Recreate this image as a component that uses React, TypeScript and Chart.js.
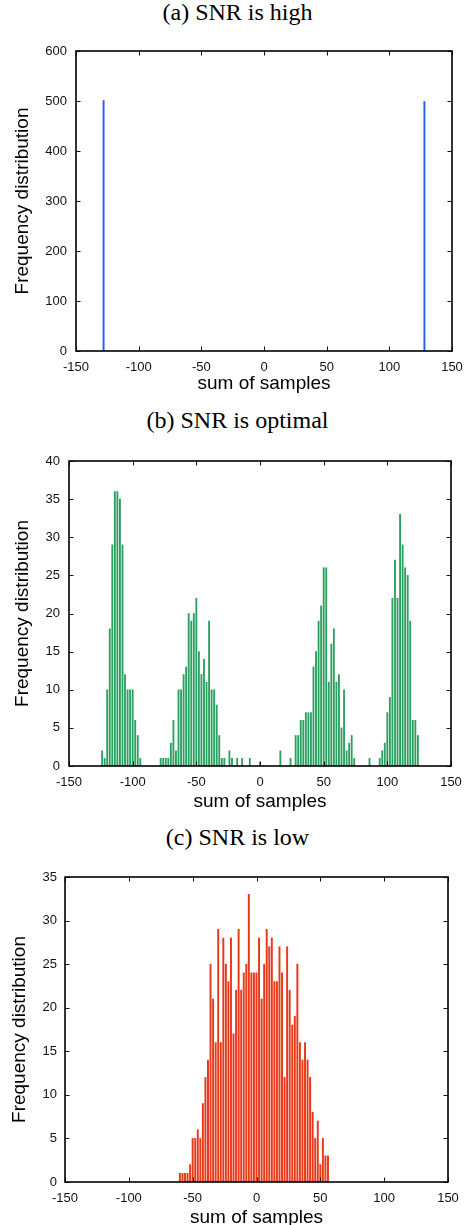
import React, { useEffect, useRef } from "react";
import { Chart, registerables } from "chart.js";

Chart.register(...registerables);

// ---------- data ----------
const xTickValues = [-150, -100, -50, 0, 50, 100, 150];

// (a) SNR is high
const highSums = [-128, 128];
const highCounts = [501, 499];

// (b) SNR is optimal
const optSums = [
  -124, -122, -120, -118, -116, -114, -112, -110, -108, -106, -104, -102, -100, -98, -96, -94,
  -78, -76, -74, -72, -70, -68, -66, -64, -62, -60, -58, -56, -54, -52, -50, -48, -46, -44, -42,
  -40, -38, -36, -34, -32, -30, -28, -24, -22, -18, -14, -8, 0, 16, 24,
  28, 30, 32, 34, 36, 38, 40, 42, 44, 46, 48, 50, 52, 54, 56, 58, 60, 62, 64, 66, 68, 70, 72, 74,
  86, 94, 96, 98, 100, 102, 104, 106, 108, 110, 112, 114, 116, 118, 120, 122, 124,
];
const optCounts = [
  2, 1, 10, 18, 29, 36, 36, 35, 29, 12, 10, 10, 10, 6, 4, 1,
  1, 1, 1, 1, 3, 6, 2, 10, 10, 12, 13, 20, 19, 20, 22, 15, 12, 14, 11,
  19, 10, 10, 8, 4, 1, 1, 2, 1, 1, 1, 1, 0.5, 2, 1,
  4, 4, 6, 6, 7, 7, 7, 13, 15, 19, 21, 26, 26, 11, 16, 18, 11, 12, 5, 10, 2, 3, 4, 1,
  1, 1, 2, 3, 7, 9, 22, 27, 22, 33, 29, 26, 25, 19, 6, 6, 4,
];

// (c) SNR is low
const lowSums = [
  -60, -58, -56, -54, -52, -50, -48, -46, -44, -42, -40, -38, -36, -34, -32, -30, -28, -26, -24, -22,
  -20, -18, -16, -14, -12, -10, -8, -6, -4, -2, 0, 2, 4, 6, 8, 10, 12, 14, 16, 18,
  20, 22, 24, 26, 28, 30, 32, 34, 36, 38, 40, 42, 44, 46, 48, 50, 52, 54, 56,
];
const lowCounts = [
  1, 1, 1, 1, 2, 5, 5, 6, 5, 9, 12, 14, 25, 21, 16, 29, 16, 28, 25, 23,
  28, 17, 22, 29, 22, 24, 25, 33, 24, 24, 24, 28, 21, 25, 29, 27, 28, 23, 23, 27,
  24, 12, 27, 22, 18, 19, 25, 16, 14, 16, 14, 12, 8, 5, 7, 2, 5, 3, 3,
];

const panelTitles = ["(a) SNR is high", "(b) SNR is optimal", "(c) SNR is low"];
const xAxisTitle = "sum of samples";
const yAxisTitle = "Frequency distribution";

// ---------- frame plugin: box + inward ticks ----------
const framePlugin = {
  id: "frameTicks",
  afterDatasetsDraw(chart: any) {
    const { ctx, chartArea } = chart;
    const { left, right, top, bottom } = chartArea;
    const xs = chart.scales.x;
    const ys = chart.scales.y;
    const len = 4.5;
    ctx.save();
    ctx.strokeStyle = "#111";
    ctx.lineWidth = 1;
    ctx.beginPath();
    xs.ticks.forEach((t: any) => {
      const p = Math.round(xs.getPixelForValue(t.value)) + 0.5;
      ctx.moveTo(p, bottom);
      ctx.lineTo(p, bottom - len);
      ctx.moveTo(p, top);
      ctx.lineTo(p, top + len);
    });
    ys.ticks.forEach((t: any) => {
      const p = Math.round(ys.getPixelForValue(t.value)) + 0.5;
      ctx.moveTo(left, p);
      ctx.lineTo(left + len, p);
      ctx.moveTo(right, p);
      ctx.lineTo(right - len, p);
    });
    ctx.stroke();
    ctx.lineWidth = 1.6;
    ctx.strokeStyle = "#000";
    ctx.strokeRect(left, top, right - left, bottom - top);
    ctx.restore();
  },
};

type PanelProps = {
  top: number;
  height: number;
  plotLeft: number;
  plotRight: number;
  plotTop: number;
  plotBottom: number;
  sums: number[];
  counts: number[];
  yMax: number;
  yStep: number;
  color: string;
  barWidth: number;
  yTitlePad: number;
  yTickPad: number;
  xTickPad: number;
};

function Panel(p: PanelProps) {
  const ref = useRef<HTMLCanvasElement | null>(null);
  useEffect(() => {
    if (!ref.current) return;
    const W = 472;
    const chart = new Chart(ref.current, {
      type: "bar",
      data: {
        datasets: [
          {
            data: p.sums.map((s, i) => ({ x: s, y: p.counts[i] })),
            backgroundColor: p.color,
            borderWidth: 0,
            barThickness: p.barWidth,
          } as any,
        ],
      },
      options: {
        animation: false,
        responsive: false,
        devicePixelRatio: 1,
        layout: {
          padding: { top: p.plotTop, right: W - p.plotRight, left: 0, bottom: 0 },
        },
        plugins: {
          legend: { display: false },
          tooltip: { enabled: false },
          title: { display: false },
        },
        scales: {
          x: {
            type: "linear",
            offset: false,
            min: -150,
            max: 150,
            afterBuildTicks: (scale: any) => {
              scale.ticks = xTickValues.map((v) => ({ value: v }));
            },
            afterFit: (scale: any) => {
              scale.height = p.height - p.plotBottom;
            },
            grid: { display: false, drawTicks: false, offset: false },
            border: { display: false },
            ticks: {
              autoSkip: false,
              maxRotation: 0,
              padding: p.xTickPad,
              color: "#111",
              font: { family: "'Liberation Sans', Arial, sans-serif", size: 13 },
            },
            title: {
              display: true,
              text: xAxisTitle,
              color: "#000",
              padding: { top: 0, bottom: 0 },
              font: { family: "'Liberation Sans', Arial, sans-serif", size: 19, lineHeight: 1.2 },
            },
          },
          y: {
            type: "linear",
            min: 0,
            max: p.yMax,
            afterFit: (scale: any) => {
              scale.width = p.plotLeft;
            },
            grid: { display: false, drawTicks: false },
            border: { display: false },
            ticks: {
              stepSize: p.yStep,
              padding: p.yTickPad,
              color: "#111",
              font: { family: "'Liberation Sans', Arial, sans-serif", size: 13 },
            },
            title: {
              display: true,
              text: yAxisTitle,
              color: "#000",
              padding: { top: p.yTitlePad, bottom: 0 },
              font: { family: "'Liberation Sans', Arial, sans-serif", size: 19, lineHeight: 1.2 },
            },
          },
        },
      } as any,
      plugins: [framePlugin],
    });
    return () => chart.destroy();
  }, []);
  return (
    <canvas
      ref={ref}
      width={472}
      height={p.height}
      style={{ position: "absolute", left: 0, top: p.top, width: 472, height: p.height, display: "block" }}
    />
  );
}

const titleStyle = (top: number): React.CSSProperties => ({
  position: "absolute",
  left: 0,
  top,
  width: 475,
  textAlign: "center",
  fontFamily: "'Liberation Serif', 'Times New Roman', serif",
  fontSize: 24,
  lineHeight: "24px",
  color: "#000",
  whiteSpace: "nowrap",
});

export default function App() {
  return (
    <div
      style={{
        position: "fixed",
        left: 0,
        top: 0,
        width: 472,
        height: 1225,
        overflow: "hidden",
        background: "#fff",
      }}
    >
      <div style={titleStyle(0)}>{panelTitles[0]}</div>
      <Panel
        top={0}
        height={395}
        plotLeft={76}
        plotRight={452}
        plotTop={51}
        plotBottom={351}
        sums={highSums}
        counts={highCounts}
        yMax={600}
        yStep={100}
        color="#2d5cf0"
        barWidth={1.3}
        yTitlePad={11.3}
        yTickPad={9}
        xTickPad={8.5}
      />
      <div style={titleStyle(408.4)}>{panelTitles[1]}</div>
      <Panel
        top={396}
        height={417}
        plotLeft={69}
        plotRight={451}
        plotTop={65}
        plotBottom={370}
        sums={optSums}
        counts={optCounts}
        yMax={40}
        yStep={5}
        color="#2aa160"
        barWidth={1.2}
        yTitlePad={11.3}
        yTickPad={9}
        xTickPad={9}
      />
      <div style={titleStyle(825)}>{panelTitles[2]}</div>
      <Panel
        top={813}
        height={416}
        plotLeft={65}
        plotRight={448}
        plotTop={64}
        plotBottom={369}
        sums={lowSums}
        counts={lowCounts}
        yMax={35}
        yStep={5}
        color="#e83a1a"
        barWidth={1.3}
        yTitlePad={8}
        yTickPad={8}
        xTickPad={9}
      />
    </div>
  );
}
